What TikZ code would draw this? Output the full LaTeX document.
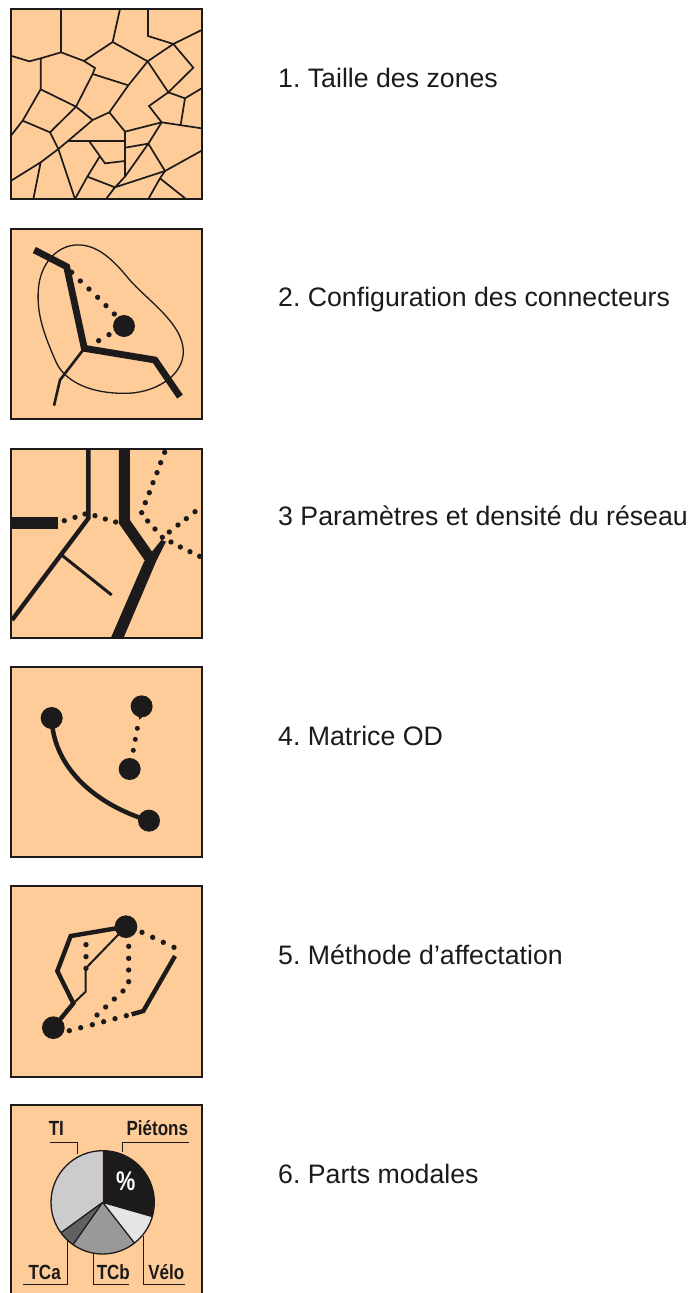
\documentclass[tikz,border=0pt]{standalone}
\usepackage{fontspec}
\setmainfont{Liberation Sans}
\definecolor{peach}{RGB}{253,204,153}
\definecolor{ink}{RGB}{28,26,26}
\tikzset{
  panel/.style={x=0.33333pt,y=-0.33333pt,line join=miter},
  frame/.style={draw=ink,fill=peach,line width=2pt},
  zone/.style={draw=ink,line width=1.7pt},
  thinline/.style={draw=ink,line width=1.3pt},
  road/.style={draw=ink,line width=4.4pt},
  heavy/.style={draw=ink,line width=6.8pt},
  leader/.style={draw=ink,line width=1.1pt},
  slice/.style={draw=ink,line width=1.3pt},
  caption/.style={anchor=base west,inner sep=0pt,font=\fontsize{26.7pt}{30pt}\selectfont,text=ink},
  pielabel/.style={anchor=base,inner sep=0pt,font=\fontsize{20.5pt}{22pt}\selectfont\bfseries,text=ink,xscale=0.83}
}
\newcommand{\pieslice}[3]{\fill[#1] (c) -- ++(-#2:155) arc[start angle=-#2,end angle=-#3,radius=155] -- cycle;}
\frenchspacing
\begin{document}
\begin{tikzpicture}[x=1pt,y=-1pt]
\useasboundingbox (0,0) rectangle (691,1293);
\fill[white] (0,0) rectangle (691,1293);
% Panel 1
\begin{scope}[panel]
\draw[frame] (32,27) rectangle (605,597);
\draw[zone] (183,27)--(183,157);
\draw[zone] (360,27)--(338,126);
\draw[zone] (444,27)--(444,108)--(520,132)--(605,90);
\draw[zone] (32,167)--(88,184)--(122,175)--(183,157)--(252,183)--(338,126)--(443,184)--(520,132);
\draw[zone] (252,183)--(285,204)--(278,222)--(228,320)--(150,397)--(68,362);
\draw[zone] (122,268)--(228,320)--(278,360);
\draw[zone] (122,175)--(122,268)--(68,362)--(32,408);
\draw[zone] (150,397)--(175,447);
\draw[zone] (278,222)--(385,256);
\draw[zone] (443,184)--(385,256)--(328,337)--(278,360)--(205,422)--(175,447)--(122,487)--(32,543);
\draw[zone] (122,487)--(100,597);
\draw[zone] (175,447)--(225,597);
\draw[zone] (205,424)--(375,424);
\draw[zone] (268,424)--(315,490)--(375,483);
\draw[zone] (300,468)--(262,530)--(225,597);
\draw[zone] (262,530)--(345,562)--(318,597);
\draw[zone] (328,337)--(375,395)--(375,530);
\draw[zone] (375,395)--(485,367)--(605,385);
\draw[zone] (375,443)--(445,431)--(485,367);
\draw[zone] (445,431)--(375,530)--(345,562)--(495,513)--(605,452);
\draw[zone] (445,431)--(495,513)--(480,535)--(445,597);
\draw[zone] (480,535)--(558,597);
\draw[zone] (443,184)--(505,277)--(580,203)--(520,132);
\draw[zone] (505,277)--(555,295)--(605,265);
\draw[zone] (555,295)--(542,375);
\draw[zone] (505,277)--(447,318)--(485,367);
\end{scope}
\node[caption] (t1) at (278,87) {1. Taille des zones};
% Panel 2
\begin{scope}[panel,shift={(0pt,-220pt)}]
\draw[frame] (32,27) rectangle (605,597);
\draw[thinline] (225,75) .. controls (290,70) and (340,120) .. (385,175) .. controls (440,240) and (550,310) .. (550,395) .. controls (550,470) and (460,522) .. (370,520) .. controls (280,520) and (200,490) .. (170,430) .. controls (130,340) and (110,280) .. (115,210) .. controls (120,130) and (170,80) .. (225,75) -- cycle;
\draw[heavy] (103,90)--(200,140)--(253,385)--(465,420)--(540,530);
\draw[road,line width=2.6pt] (253,385)--(180,480)--(162,557);
\foreach \p in {(215,157),(241,183),(267,207),(293,232),(318,257),(343,282),(327,344),(296,362)}{\fill[ink] \p circle (8);}
\fill[ink] (372,318) circle (33);
\end{scope}
\node[caption] (t2) at (278,306) {2. Configuration des connecteurs};
% Panel 3
\begin{scope}[panel,shift={(0pt,-440pt)}]
\draw[frame] (32,27) rectangle (605,595);
\fill[ink] (32,232) rectangle (175,268);
\draw[road] (265,27)--(265,235)--(36,540);
\draw[road,line width=3pt] (185,345)--(335,465);
\draw[draw=ink,line width=11pt] (373,27)--(373,245)--(450,355);
\fill[ink] (484,300)--(498,305)--(468,365)--(370,595)--(332,595)--(432,365)--cycle;
\foreach \p in {(193,242),(225,232),(255,222),(285,227),(316,237),(347,246),(494,37),(482,68),(471,98),(459,128),(448,158),(436,188),(425,218),(443,243),(465,267),(487,292),(513,306),(541,321),(570,335),(599,349),(585,215),(559,236),(534,255),(508,276)}{\fill[ink] \p circle (8);}
\end{scope}
\node[caption] (t3) at (278,525) {3 Paramètres et densité du réseau};
% Panel 4
\begin{scope}[panel,shift={(0pt,-655pt)}]
\draw[frame] (32,37) rectangle (605,605);
\draw[draw=ink,line width=4.5pt] (155,189) .. controls (160,340) and (290,450) .. (447,497);
\foreach \p in {(155,189),(425,154),(389,342),(447,497)}{\fill[ink] \p circle (33);}
\fill[ink] (412,170)--(432,180)--(418,194)--cycle;
\foreach \p in {(412,220),(406,253),(400,286)}{\fill[ink] \p circle (7.5);}
\end{scope}
\node[caption] (t4) at (278,745) {4. Matrice OD};
% Panel 5
\begin{scope}[panel,shift={(0pt,-875pt)}]
\draw[frame] (32,33) rectangle (605,605);
\draw[road] (378,155)--(212,183)--(172,288)--(220,385)--(160,458);
\draw[thinline,line width=2pt] (378,155)--(257,280)--(257,350)--(220,385);
\foreach \p in {(258,209),(258,245),(258,280),(386,214),(386,250),(386,285),(386,320),(369,348),(343,372),(317,396),(291,420),(426,172),(458,187),(490,202),(522,217),(208,467),(242,458),(277,449),(311,440),(345,431),(379,422)}{\fill[ink] \p circle (8);}
\draw[road] (395,418)--(430,408)--(525,243);
\foreach \p in {(378,155),(160,458)}{\fill[ink] \p circle (34);}
\end{scope}
\node[caption] (t5) at (278,964) {5. Méthode d’affectation};
% Panel 6
\begin{scope}[panel,shift={(0pt,-1093pt)}]
\fill[peach] (32,37) rectangle (605,602);
\draw[frame,fill=none] (32,602)--(32,37)--(605,37)--(605,602);
\coordinate (c) at (308,328);
\draw[leader] (150,148)--(232,148)--(232,183);
\draw[leader] (368,176)--(368,148)--(567,148);
\draw[leader] (70,575)--(203,575)--(203,445);
\draw[leader] (280,480)--(280,575)--(388,575);
\draw[leader] (430,430)--(430,575)--(555,575);
\pieslice{ink}{90}{-16}
\pieslice{black!10}{-16}{-52}
\pieslice{black!40}{-52}{-125}
\pieslice{black!62}{-125}{-144}
\pieslice{black!20}{-144}{-270}
\draw[slice] (c)--++(16:155) (c)--++(52:155) (c)--++(125:155) (c)--++(144:155);
\draw[slice] (c) circle (155);
\node[anchor=center,inner sep=0pt,text=white,font=\fontsize{27pt}{29pt}\selectfont\bfseries,xscale=0.8] (pct) at (377,265) {\%};
\node[pielabel] (ti) at (169,128) {TI};
\node[pielabel] (piet) at (472,128) {Piétons};
\node[pielabel] (tca) at (134,560) {TCa};
\node[pielabel] (tcb) at (340,560) {TCb};
\node[pielabel] (velo) at (499,560) {Vélo};
\end{scope}
\node[caption] (t6) at (278,1183) {6. Parts modales};
\end{tikzpicture}
\end{document}
